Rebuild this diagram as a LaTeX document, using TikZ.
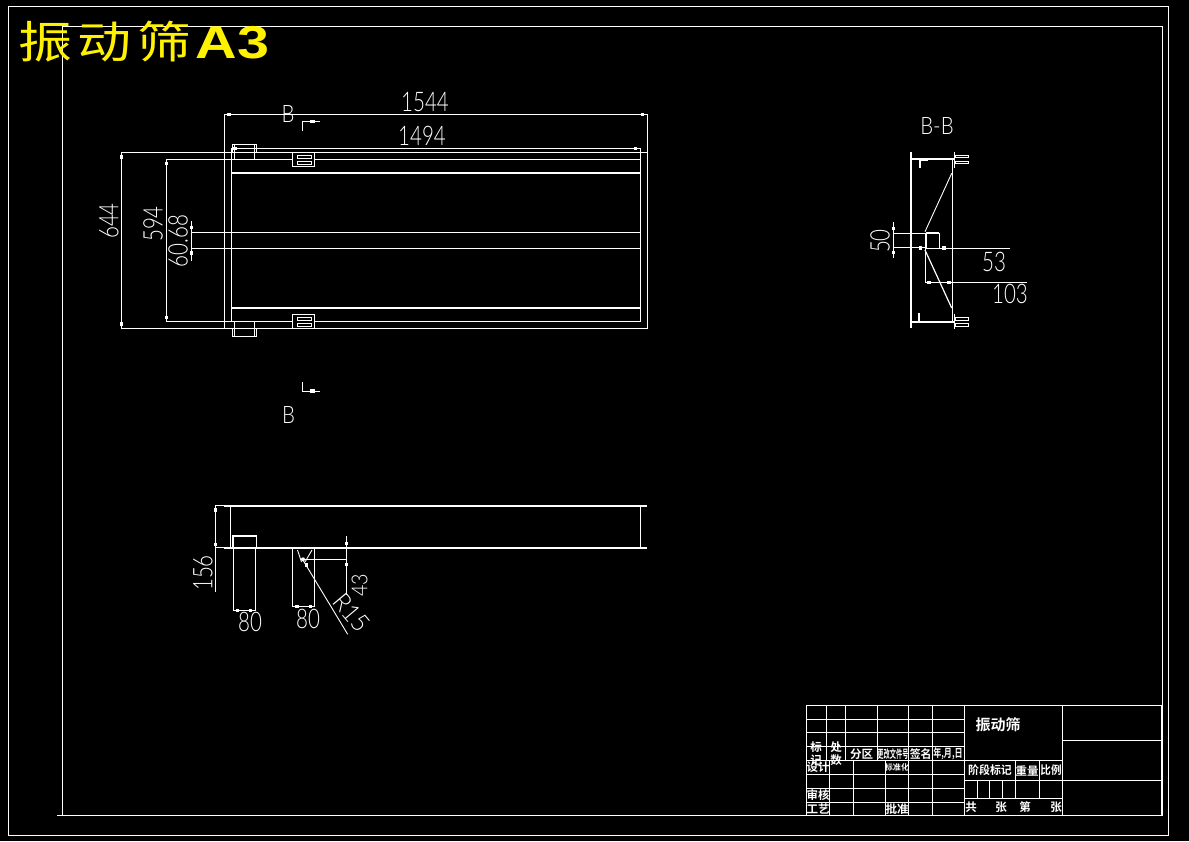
\documentclass[tikz,border=0pt]{standalone}
\usepackage{fontspec}
\setmainfont{Liberation Sans}
\newfontfamily\cjk{Noto Sans CJK SC}
\newfontfamily\cjkb{Noto Sans CJK SC Bold}
\newfontfamily\dimfont{Lato Light}
\newcommand{\dimt}[1]{\scalebox{0.76}[1]{\fontsize{27}{27}\selectfont\dimfont #1}}
\newcommand{\dimr}[1]{\scalebox{0.85}[1]{\fontsize{24}{24}\selectfont\dimfont #1}}
\newcommand{\tb}[2]{\scalebox{#1}[1]{\fontsize{11.5}{11.5}\selectfont\cjkb #2}}
\def\tk(#1,#2){\fill[white] (#1-1.6,#2-1.6) rectangle (#1+1.6,#2+1.6);}
\tikzset{
  ln/.style={draw=white,line width=0.9pt},
  th/.style={draw=white,line width=1.8pt},
  lbl/.style={text=white,inner sep=0pt,outer sep=0pt},
}
\begin{document}
\begin{tikzpicture}[x=1pt,y=-1pt]
\useasboundingbox (0,0) rectangle (1189,841);
\fill[black] (0,0) rectangle (1189,841);
% frames
\draw[ln] (8.5,6.5) rectangle (1168,835);
\draw[ln] (62.5,26) -- (1162,26) -- (1162,815.3) -- (57,815.3);
\draw[ln] (62.5,26) -- (62.5,815.3);
% title
\node[lbl,text=yellow,anchor=base west] (title) at (18,58) {\scalebox{1}[0.82]{\fontsize{54}{54}\selectfont\cjk 振\kern6pt 动\kern6pt 筛}\kern4pt\scalebox{1.25}[1]{\fontsize{46}{46}\selectfont\bfseries A3}};
% top view
\draw[ln] (224.4,328.3) -- (224.4,114.5) -- (647.3,114.5) -- (647.3,328.3) -- (121.3,328.3) -- (121.3,152.6) -- (647.3,152.6);
\draw[ln] (166.3,321.5) -- (166.3,159.2) -- (640.3,159.2);
\draw[ln] (166.3,321.5) -- (640.3,321.5);
\draw[ln] (231.7,321.5) -- (231.7,148.3) -- (640.3,148.3) -- (640.3,321.5);
\draw[th] (231.7,173) -- (640.3,173);
\draw[th] (231.7,307.7) -- (640.3,307.7);
\draw[ln] (191.3,232.3) -- (640.3,232.3);
\draw[ln] (191.3,248.3) -- (640.3,248.3);
\draw[ln] (191.3,221) -- (191.3,260.7);
\tk(229,114.5) \tk(642.7,114.5) \tk(235,148.3) \tk(635.7,148.3)
\tk(121.3,157) \tk(121.3,324) \tk(166.3,163.3) \tk(166.3,317.7)
\tk(191.3,227.7) \tk(191.3,253)
% brackets on top view
\draw[ln] (232.3,152.6) -- (232.3,144.3) -- (256.7,144.3) -- (256.7,152.6);
\draw[ln] (234.3,144.3) rectangle (254.3,159.2);
\draw[ln] (232.3,328.3) -- (232.3,336.2) -- (256.7,336.2) -- (256.7,328.3);
\draw[ln] (234.3,321.5) rectangle (254.3,336.2);
\fill[black] (292.3,152.3) rectangle (314.7,166.7);
\draw[ln] (292.3,152.3) rectangle (314.7,166.7);
\draw[ln] (297.3,155.2) rectangle (311,158.2);
\draw[ln] (297.3,161.2) rectangle (311,164.2);
\fill[black] (292.3,314.3) rectangle (314.7,328.3);
\draw[ln] (292.3,314.3) rectangle (314.7,328.3);
\draw[ln] (297.3,317.3) rectangle (311,320.3);
\draw[ln] (297.3,323.3) rectangle (311,326.3);
% section marks
\draw[ln] (302.3,131) -- (302.3,121.3) -- (320,121.3);
\fill[white] (310,119.5) rectangle (315,123.2);
\draw[ln] (302.3,382) -- (302.3,391) -- (320,391);
\fill[white] (310,389.2) rectangle (315,392.8);
\node[lbl] (bTop) at (288,114) {\dimr{B}};
\node[lbl] (bBot) at (288.5,415) {\dimr{B}};
% dimension texts top view
\node[lbl] (d1544) at (425,102) {\dimt{1544}};
\node[lbl] (d1494) at (422,136) {\dimt{1494}};
\node[lbl,rotate=90] (d644) at (109,221) {\dimt{644}};
\node[lbl,rotate=90] (d594) at (153,224) {\dimt{594}};
\node[lbl,rotate=90] (d6068) at (178,241) {\dimt{60.68}};
% section B-B
\node[lbl] (bb) at (937,126) {\dimr{B-B}};
\draw[th] (911,152) -- (911,328);
\draw[ln] (952.7,159.2) -- (952.7,321.7);
\draw[th] (954.5,152) -- (954.5,168);
\draw[th] (954.5,313.5) -- (954.5,328.5);
\draw[th] (911,159.2) -- (954,159.2);
\draw[th] (911,321.7) -- (954,321.7);
\draw[ln] (955,155) rectangle (968.5,157.5);
\draw[ln] (955,161) rectangle (968.5,163.5);
\draw[ln] (955,317.5) rectangle (968.5,320);
\draw[ln] (955,323.5) rectangle (968.5,326);
\draw[th] (919.8,168) -- (919.8,160) -- (927.7,160);
\draw[th] (919,313) -- (919,320.7);
\draw[ln] (951.7,173.3) -- (925,231.7);
\draw[draw=white,line width=1.2pt] (925,250) -- (951.7,308);
\draw[th] (926,233.3) -- (939.3,233.3);
\draw[ln] (939.3,233.3) -- (939.3,247.5);
\draw[th] (926.5,233.3) -- (926.5,247.5);
\draw[ln] (925,233.3) -- (925,282.3);
\draw[ln] (893.3,233.3) -- (925,233.3);
\draw[ln] (893.3,247.7) -- (925,247.7);
\draw[ln] (893.3,222) -- (893.3,258);
\draw[ln] (925,248) -- (1010,248);
\draw[ln] (925,282.3) -- (1026.7,282.3);
\tk(893.3,228.3) \tk(893.3,252.2) \tk(920.7,248) \tk(944,248) \tk(929,282.3) \tk(949,282.3)
\node[lbl,rotate=90] (d50) at (880,241) {\dimt{50}};
\node[lbl] (d53) at (994,262) {\dimt{53}};
\node[lbl] (d103) at (1010,294) {\dimt{103}};
% side view
\draw[th] (224,505.7) -- (647,505.7);
\draw[ln] (215.3,505.7) -- (224,505.7);
\draw[th] (224,547.7) -- (647,547.7);
\draw[ln] (215.3,547.7) -- (224,547.7);
\draw[ln] (215.3,505.7) -- (215.3,591.7);
\draw[ln] (230.3,505.7) -- (230.3,547.7);
\draw[ln] (640.3,505.7) -- (640.3,547.7);
\tk(215.3,510) \tk(215.3,544.3)
\draw[th] (232.6,547.7) -- (232.6,536.3) -- (256.5,536.3) -- (256.5,547.7);
\draw[ln] (233.3,547.7) -- (233.3,610.3) -- (255.7,610.3) -- (255.7,547.7);
\tk(237.3,610.3) \tk(250.7,610.3)
\draw[ln] (292.3,547.7) -- (292.3,606.3) -- (314.3,606.3) -- (314.3,547.7);
\tk(297,606.3) \tk(310.7,606.3)
\draw[ln] (346.3,536.3) -- (346.3,595);
\tk(346.3,543.3) \tk(346.3,564.3)
\draw[ln] (303,559.3) -- (346.3,559.3);
\draw[ln] (297.5,550) -- (301.5,562);
\draw[ln] (312,550) -- (305,562);
\fill[white] (303,559.3) circle (2);
\draw[ln] (303.5,561) -- (347.7,634.3);
\tk(306.5,565)
\node[lbl,rotate=90] (d156) at (203,573) {\dimt{156}};
\node[lbl] (d80a) at (250,622) {\dimt{80}};
\node[lbl] (d80b) at (308,619) {\dimt{80}};
\node[lbl,rotate=90] (d43) at (359.5,585) {\scalebox{0.9}[1]{\fontsize{22}{22}\selectfont\dimfont 43}};
\node[lbl,rotate=-50] (dR15) at (351.5,612.5) {\scalebox{0.95}[1]{\fontsize{25}{25}\selectfont\dimfont R15}};
% title block
\draw[ln] (806.3,705.3) rectangle (1161.7,815.3);
\foreach \yy in {719.3,732.3,746.3,760.3,774.3,788.3,802.3}{\draw[ln] (806.3,\yy) -- (964.3,\yy);}
\foreach \xx in {826.3,845.3,877.3,908.3,932.3}{\draw[ln] (\xx,705.3) -- (\xx,760.3);}
\foreach \xx in {829.3,853.3,885.3,908.3,932.3}{\draw[ln] (\xx,760.3) -- (\xx,815.3);}
\draw[ln] (964.3,705.3) -- (964.3,815.3);
\draw[ln] (1062.3,705.3) -- (1062.3,815.3);
\draw[ln] (964.3,760.3) -- (1062.3,760.3);
\draw[ln] (964.3,780) -- (1161.7,780);
\draw[ln] (964.3,798.3) -- (1062.3,798.3);
\draw[ln] (1062.3,740.3) -- (1161.7,740.3);
\foreach \xx in {1015.3,1039.3}{\draw[ln] (\xx,760.3) -- (\xx,798.3);}
\foreach \xx in {977.3,989.3,1002.3}{\draw[ln] (\xx,780) -- (\xx,798.3);}
\node[lbl] (t1) at (816,747) {\tb{1}{标}};
\node[lbl] (t2) at (816,760) {\tb{1}{记}};
\node[lbl] (t3) at (836,747) {\tb{1}{处}};
\node[lbl] (t4) at (836,760) {\tb{1}{数}};
\node[lbl] (t5) at (861.7,753.7) {\tb{1}{分区}};
\node[lbl] (t6) at (893,753.7) {\tb{0.54}{更改文件号}};
\node[lbl] (t7) at (920.7,753.7) {\tb{0.95}{签名}};
\node[lbl] (t8) at (948,753.7) {\tb{0.7}{年,月,日}};
\node[lbl] (t9) at (818,767) {\tb{1}{设计}};
\node[lbl] (t10) at (897,767) {\scalebox{0.7}{\tb{1}{标准化}}};
\node[lbl] (t11) at (818,795) {\tb{1}{审核}};
\node[lbl] (t12) at (818,809) {\tb{1}{工艺}};
\node[lbl] (t13) at (897,809) {\tb{1}{批准}};
\node[lbl] (t14) at (998,725) {\fontsize{15}{15}\selectfont\cjkb 振动筛};
\node[lbl] (t15) at (990,770.5) {\tb{0.95}{阶段标记}};
\node[lbl] (t16) at (1027,770.5) {\tb{1}{重量}};
\node[lbl] (t17) at (1051,770.5) {\tb{0.92}{比例}};
\node[lbl] (t18) at (971,807) {\tb{1}{共}};
\node[lbl] (t19) at (1001,807) {\tb{1}{张}};
\node[lbl] (t20) at (1025,807) {\tb{1}{第}};
\node[lbl] (t21) at (1056,807) {\tb{1}{张}};
\end{tikzpicture}
\end{document}
